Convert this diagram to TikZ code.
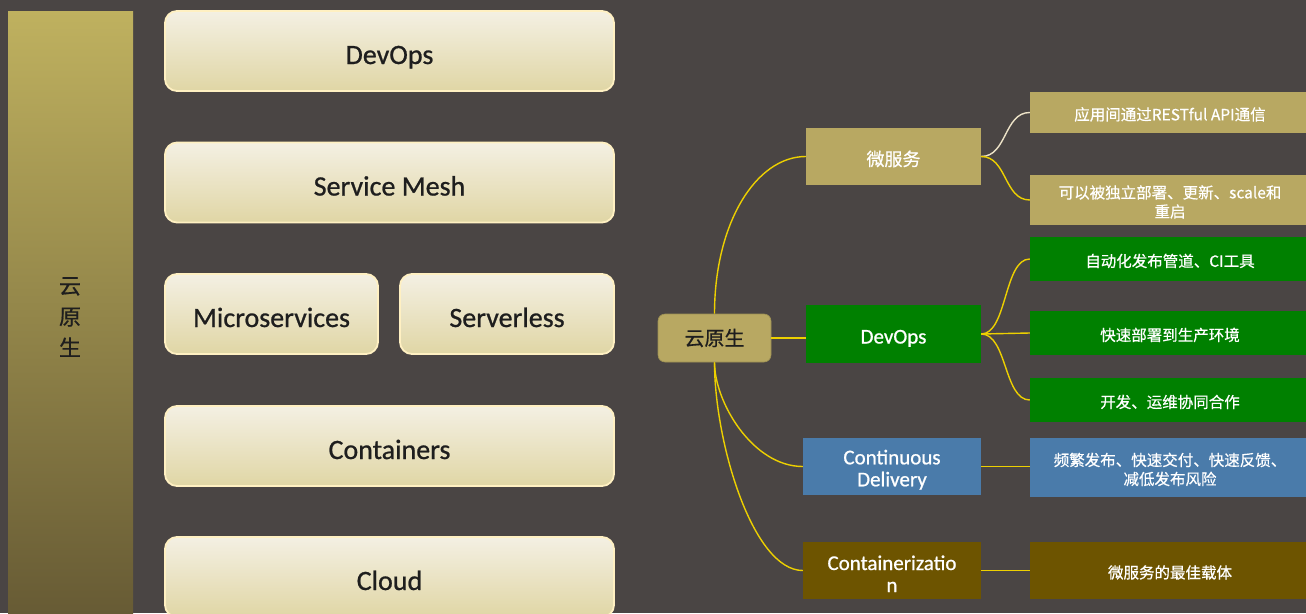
\documentclass[tikz,border=0pt]{standalone}
\usepackage{fontspec}
\setmainfont{Carlito}
\newfontfamily\cjk{Noto Sans CJK SC}
\newfontfamily\cjkheavy{Noto Sans CJK SC}[FakeBold=0.6]
\newfontfamily\heavy{Carlito}[FakeBold=0.8]

\definecolor{bg}{HTML}{4A4544}
\definecolor{colTop}{HTML}{BFB15F}
\definecolor{colMid}{HTML}{AA9C53}
\definecolor{colBot}{HTML}{665A34}
\definecolor{boxTop}{HTML}{F4F0E3}
\definecolor{boxBot}{HTML}{E0D6A5}
\definecolor{boxLine}{HTML}{FFF0C2}
\definecolor{ink}{HTML}{1E1E1E}
\definecolor{khaki}{HTML}{B8A862}
\definecolor{ops}{HTML}{008000}
\definecolor{cdblue}{HTML}{4A7BAA}
\definecolor{ctr}{HTML}{6D5400}
\definecolor{wire}{HTML}{EDD000}
\definecolor{wirepale}{HTML}{EDE3C8}

\tikzset{
  layer/.style={rounded corners=12pt, draw=boxLine, line width=1.8pt,
    top color=boxTop, bottom color=boxBot, text=ink, inner sep=0pt,
    minimum height=80pt, text height=26pt, text depth=0pt,
    font=\heavy\fontsize{28}{30}\selectfont},
  rootbox/.style={rounded corners=7pt, fill=khaki, draw=khaki!85!black, line width=0.6pt,
    minimum width=113pt, minimum height=48pt, inner sep=0pt, text=ink,
    font=\cjkheavy\fontsize{20}{24}\selectfont},
  topic/.style={inner sep=0pt, text=white, align=center, minimum height=57pt},
  leaf/.style={inner sep=0pt, text=white, align=center, minimum width=280pt,
    font=\cjkheavy\fontsize{15.5}{19}\selectfont},
  link/.style={draw=wire, line width=1.4pt},
}

\begin{document}
\begin{tikzpicture}[x=1pt, y=-1pt]
  \fill[bg] (0,0) rectangle (1306,613);
  \useasboundingbox (0,0) rectangle (1306,613);
  \clip (0,0) rectangle (1306,613);

  % vertical band on the left
  \node[anchor=north west, inner sep=0pt, minimum width=125pt, minimum height=610pt,
        top color=colTop, middle color=colMid, bottom color=colBot] (band) at (8,11) {};
  \node[align=center, text=ink, font=\cjkheavy\fontsize{22}{31}\selectfont] (bandtext) at (70,317) {云\\原\\生};

  % stack of layers
  \node[layer, minimum width=449pt] (l-devops) at (389.5,51) {DevOps};
  \node[layer, minimum width=449pt] (l-mesh) at (389.5,182.5) {Service Mesh};
  \node[layer, minimum width=213pt] (l-micro) at (271.5,314) {Microservices};
  \node[layer, minimum width=214pt] (l-sls) at (507,314) {Serverless};
  \node[layer, minimum width=449pt] (l-ctr) at (389.5,446) {Containers};
  \node[layer, minimum width=449pt] (l-cloud) at (389.5,577) {Cloud};

  % mind map
  \node[rootbox] (root) at (714.5,338) {云原生};

  \node[topic, fill=khaki, minimum width=175pt, font=\cjkheavy\fontsize{18}{22}\selectfont] (ms) at (893.5,156.5) {\rule{0pt}{20pt}微服务};
  \node[topic, fill=ops, minimum width=175pt, minimum height=58pt, text height=19pt, text depth=0pt,
        font=\heavy\fontsize{21}{22}\selectfont] (dv) at (893.5,334) {DevOps};
  \node[topic, fill=cdblue, minimum width=178pt, font=\heavy\fontsize{21}{22}\selectfont] (cdn) at (892,466.5) {\rule{0pt}{21pt}Continuous\\Delivery};
  \node[topic, fill=ctr, minimum width=178pt, font=\heavy\fontsize{21}{22}\selectfont] (ctn) at (892,570.5) {\rule{0pt}{21pt}Containerizatio\\n};

  \node[leaf, fill=khaki, minimum height=41pt] (lf1) at (1170,112.5) {\rule{0pt}{17pt}应用间通过RESTful API通信};
  \node[leaf, fill=khaki, minimum height=50pt] (lf2) at (1170,200) {\rule{0pt}{17pt}可以被独立部署、更新、scale和\\重启};
  \node[leaf, fill=ops, minimum height=44pt] (lf3) at (1170,259) {\rule{0pt}{17pt}自动化发布管道、CI工具};
  \node[leaf, fill=ops, minimum height=44pt] (lf4) at (1170,333) {\rule{0pt}{17pt}快速部署到生产环境};
  \node[leaf, fill=ops, minimum height=44pt] (lf5) at (1170,400) {\rule{0pt}{17pt}开发、运维协同合作};
  \node[leaf, fill=cdblue, minimum height=59pt] (lf6) at (1170,467.5) {\rule{0pt}{17pt}频繁发布、快速交付、快速反馈、\\减低发布风险};
  \node[leaf, fill=ctr, minimum height=57pt] (lf7) at (1170,570.5) {\rule{0pt}{17pt}微服务的最佳载体};

  % root to topics
  \draw[link] (root.north) .. controls +(0,-90) and +(-50,0) .. (ms.west);
  \draw[link] (root.east) -- (root.east -| dv.west);
  \draw[link] (root.south) .. controls +(0,40) and +(-50,0) .. (cdn.west);
  \draw[link] (root.south) .. controls +(0,80) and +(-50,0) .. (ctn.west);

  % topics to details
  \draw[link, draw=wirepale] (ms.east) .. controls +(26,0) and +(-26,0) .. (lf1.west);
  \draw[link] (ms.east) .. controls +(26,0) and +(-26,0) .. (lf2.west);
  \draw[link] (dv.east) .. controls +(26,0) and +(-26,0) .. (lf3.west);
  \draw[link] (dv.east) -- (lf4.west);
  \draw[link] (dv.east) .. controls +(26,0) and +(-26,0) .. (lf5.west);
  \draw[link] (cdn.east) -- (cdn.east -| lf6.west);
  \draw[link] (ctn.east) -- (ctn.east -| lf7.west);
\end{tikzpicture}
\end{document}
